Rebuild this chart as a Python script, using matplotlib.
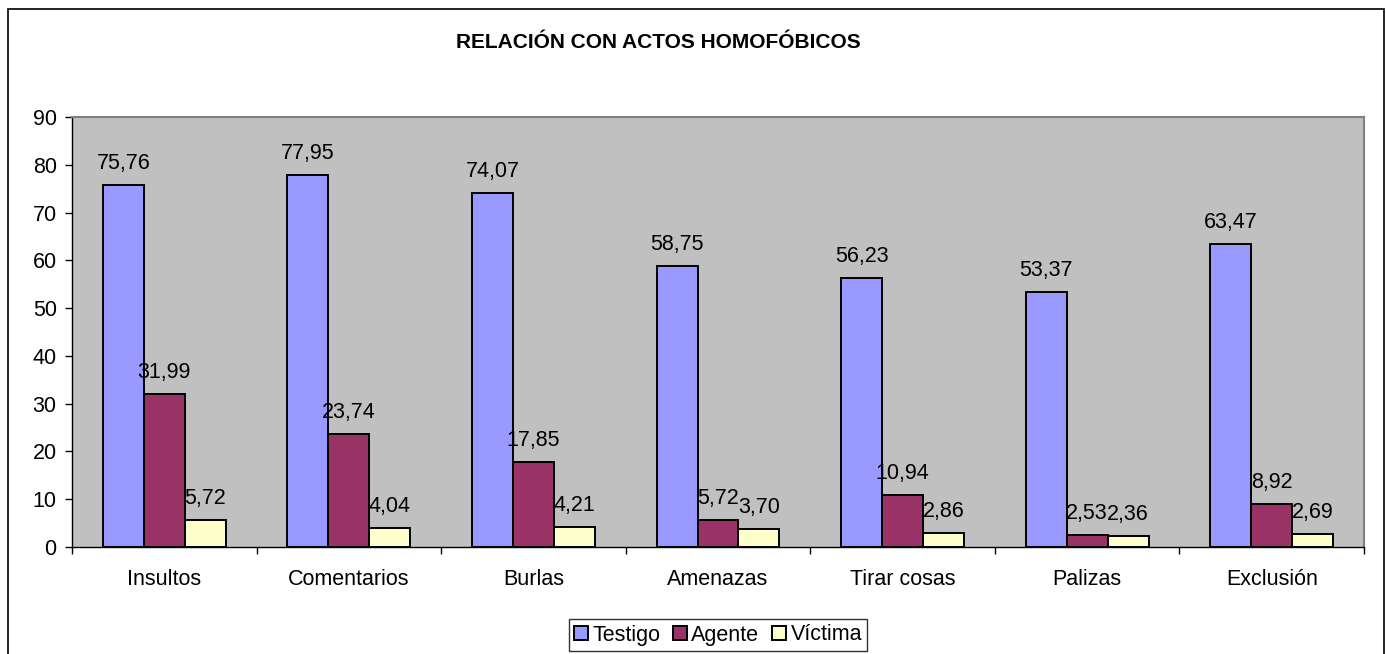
import numpy as np
import matplotlib
matplotlib.use('Agg')
import matplotlib.pyplot as plt
from matplotlib.patches import Rectangle

plt.rcParams['font.family'] = ['Liberation Sans', 'DejaVu Sans']

# Datos
categorias = ['Insultos', 'Comentarios', 'Burlas', 'Amenazas', 'Tirar cosas', 'Palizas', 'Exclusión']
testigo = [75.76, 77.95, 74.07, 58.75, 56.23, 53.37, 63.47]
agente = [31.99, 23.74, 17.85, 5.72, 10.94, 2.53, 8.92]
victima = [5.72, 4.04, 4.21, 3.70, 2.86, 2.36, 2.69]
series = [('Testigo', testigo, '#9999FF'),
          ('Agente', agente, '#993366'),
          ('Víctima', victima, '#FFFFCC')]

fs = 15.5

fig = plt.figure(figsize=(13.86, 6.54), dpi=100)
ax = fig.add_axes([72/1386, 1 - 547/654, (1364 - 72)/1386, (547 - 117)/654])
ax.set_facecolor('#C0C0C0')

# borde exterior del gráfico
fig.patches.append(Rectangle((8/1386, -0.1), 1376/1386, 1.1 - 9/654,
                             transform=fig.transFigure, fill=False,
                             edgecolor='black', linewidth=1.2))

x = np.arange(len(categorias))
w = 0.222
for i, (nombre, vals, color) in enumerate(series):
    pos = x + (i - 1) * w
    ax.bar(pos, vals, width=w, color=color, edgecolor='black', linewidth=1.4, label=nombre)
    for xi, v in zip(pos, vals):
        ax.annotate(f'{v:.2f}'.replace('.', ','), (xi, v), xytext=(0, 11.5),
                    textcoords='offset points', ha='center', va='baseline', fontsize=fs)

ax.set_xlim(-0.5, len(categorias) - 0.5)
ax.set_ylim(0, 90)
ax.set_yticks(range(0, 91, 10))
ax.set_xticks(x)
ax.set_xticklabels(categorias)
ax.set_xticks(np.arange(-0.5, len(categorias), 1), minor=True)
ax.tick_params(axis='x', which='major', length=0, pad=16, labelsize=fs)
ax.tick_params(axis='x', which='minor', length=5, width=1, direction='out')
ax.tick_params(axis='y', length=5, width=1, direction='out', pad=6, labelsize=fs)

for s in ['top', 'right']:
    ax.spines[s].set_color('#808080')
    ax.spines[s].set_linewidth(1.5)
for s in ['left', 'bottom']:
    ax.spines[s].set_color('black')
    ax.spines[s].set_linewidth(1)

fig.text(658/1386, 1 - 42/654, 'RELACIÓN CON ACTOS HOMOFÓBICOS', ha='center', va='center',
         fontsize=15, fontweight='bold')

leg = fig.legend(loc='center', bbox_to_anchor=(718/1386, 1 - 635/654), ncol=3, fontsize=fs,
                 frameon=True, fancybox=False, edgecolor='black', handlelength=0.65,
                 handleheight=0.65, handletextpad=0.2, columnspacing=0.6,
                 borderpad=0.25, borderaxespad=0)
leg.get_frame().set_linewidth(1)

fig.savefig('out.png', dpi=100, facecolor='white')
